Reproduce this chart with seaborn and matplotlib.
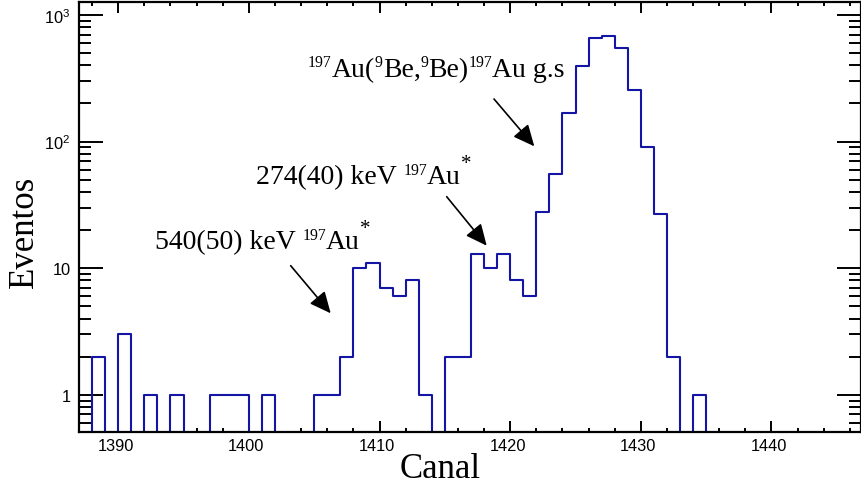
import numpy as np
import pandas as pd
import matplotlib
matplotlib.use("Agg")
import matplotlib.pyplot as plt
import matplotlib.ticker as mticker
import matplotlib.transforms as mtransforms
import seaborn as sns

# ---- data ----
channels = list(range(1387, 1447))
counts = [0, 2, 0, 3, 0, 1, 0, 1, 0, 0,          # 1387-1396
          1, 1, 1, 0, 1, 0, 0, 0, 1, 1,          # 1397-1406
          2, 10, 11, 7, 6, 8, 1, 0, 2, 2,        # 1407-1416
          13, 10, 13, 8, 6, 28, 55, 168, 397, 653,  # 1417-1426
          678, 545, 257, 90, 27, 2, 0, 1, 0, 0,  # 1427-1436
          0, 0, 0, 0, 0, 0, 0, 0, 0, 0]          # 1437-1446
xtick_values = [1390, 1400, 1410, 1420, 1430, 1440]
ytick_values = [1, 10, 100, 1000]
ytick_labels = ["1", "10", r"$\mathdefault{10^{2}}$", r"$\mathdefault{10^{3}}$"]
x_title = "Canal"
y_title = "Eventos"
# annotation texts as (text, kind) pieces: "n" normal, "s" superscript, "a" asterisk
note_540 = [("540(50) keV ", "n"), ("197", "s"), ("Au", "n"), ("*", "a")]
note_274 = [("274(40) keV ", "n"), ("197", "s"), ("Au", "n"), ("*", "a")]
note_gs = [("197", "s"), ("Au(", "n"), ("9", "s"), ("Be,", "n"), ("9", "s"),
           ("Be)", "n"), ("197", "s"), ("Au g.s", "n")]

sns.set_theme(style="white")
plt.rcParams["font.family"] = ["Liberation Sans", "DejaVu Sans"]
plt.rcParams["text.color"] = "black"

W, H = 862, 485
fig = plt.figure(figsize=(W / 100, H / 100), dpi=100)
left, right, top, bottom = 79, 861, 3, 433.3
ax = fig.add_axes([left / W, 1 - bottom / H, (right - left) / W, (bottom - top) / H])

df = pd.DataFrame({"canal": np.array(channels, dtype=float) + 0.5,
                   "eventos": np.array(counts, dtype=float)})
edges = [float(e) for e in range(channels[0], channels[-1] + 2)]
sns.histplot(data=df, x="canal", weights="eventos", bins=edges, element="step",
             fill=False, color="#1515a5", linewidth=1.5, ax=ax)

ax.set_yscale("log")
ax.set_xlim(1387, 1446.85)
ax.set_ylim(0.505, 1265)

ax.set_xlabel("")
ax.set_ylabel("")

ax.xaxis.set_major_locator(mticker.FixedLocator(xtick_values))
ax.xaxis.set_minor_locator(mticker.MultipleLocator(2))
ax.yaxis.set_major_locator(mticker.FixedLocator(ytick_values))
ax.yaxis.set_major_formatter(mticker.FixedFormatter(ytick_labels))
ax.yaxis.set_minor_locator(mticker.LogLocator(base=10, subs=np.arange(2, 10)))
ax.yaxis.set_minor_formatter(mticker.NullFormatter())

for sp in ax.spines.values():
    sp.set_visible(True)
    sp.set_color("black")
    sp.set_linewidth(1.6)

ax.tick_params(axis="both", which="both", direction="in",
               top=True, right=True, bottom=True, left=True,
               color="black", width=1.4, labelsize=11.8, labelcolor="black")
ax.tick_params(axis="x", which="major", length=8, pad=4)
ax.tick_params(axis="x", which="minor", length=3.2)
ax.tick_params(axis="y", which="major", length=17.5, pad=6)
ax.tick_params(axis="y", which="minor", length=8.8)

offset = mtransforms.ScaledTranslation(-2.5 / 100, 0, fig.dpi_scale_trans)
for lab in ax.get_xticklabels():
    lab.set_transform(lab.get_transform() + offset)

# axis titles
fig.text(440.5 / W, 1 - 478 / H, x_title, ha="center", va="baseline",
         fontsize=25, family="Liberation Serif", color="black")
fig.text(33 / W, 1 - 231.7 / H, y_title, ha="center", va="baseline", rotation=90,
         rotation_mode="anchor", fontsize=25, family="Liberation Serif", color="black")

# annotations built from pieces (smaller raised superscripts, as in the original)
renderer = fig.canvas.get_renderer()
piece_style = {"n": (20, 0), "s": (11.3, 9.5), "a": (15, 15)}


def rich_text(x0, y0, pieces):
    cur = x0
    for s, kind in pieces:
        size, rise = piece_style[kind]
        t = fig.text(cur / W, 1 - (y0 - rise) / H, s, ha="left", va="baseline",
                     fontsize=size, family="Liberation Serif", color="black")
        cur += t.get_window_extent(renderer).width


rich_text(155, 249.3, note_540)
rich_text(256, 184.3, note_274)
rich_text(308, 76.7, note_gs)

arrows = [((290.7, 266.7), (330.7, 314.3)),
          ((446.7, 197.7), (486.7, 246.7)),
          ((494, 100), (534.3, 147.3))]
for (tx, ty), (hx, hy) in arrows:
    ax.annotate("", xy=(hx, H - hy), xycoords="figure pixels",
                xytext=(tx, H - ty), textcoords="figure pixels",
                arrowprops=dict(arrowstyle="-|>,head_length=0.65,head_width=0.3",
                                color="black", lw=1.2, mutation_scale=20,
                                shrinkA=0, shrinkB=0))

fig.savefig("out.png", dpi=100)
